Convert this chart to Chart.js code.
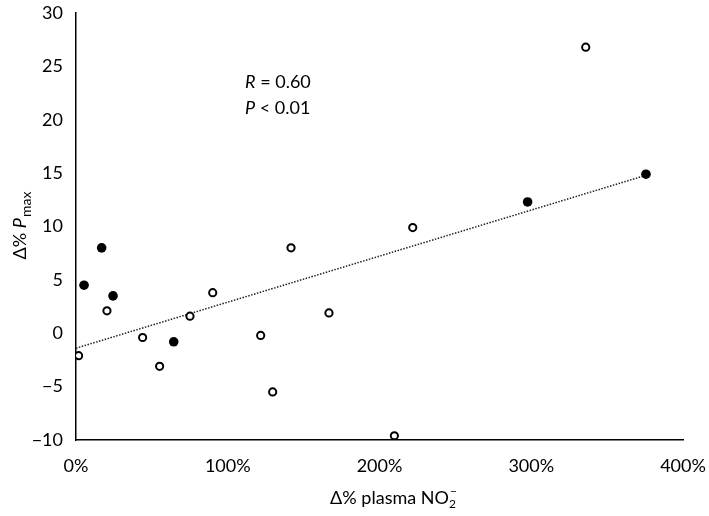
<!DOCTYPE html>
<html>
<head>
<meta charset="utf-8">
<script src="https://cdn.jsdelivr.net/npm/chart.js@4.4.1/dist/chart.umd.min.js"></script>
<style>
  html, body { margin: 0; padding: 0; background: #fff; }
  #wrap { width: 709px; height: 516px; position: relative; }
</style>
</head>
<body>
<div id="wrap"><canvas id="chart"></canvas></div>
<script>
// open circles
const openX = [1.7, 20.4, 43.9, 55.1, 75.1, 90.1, 121.7, 129.6, 141.7, 166.7, 209.8, 221.9, 335.9];
const openY = [-2.1, 2.1, -0.4, -3.1, 1.6, 3.8, -0.2, -5.5, 8.0, 1.9, -9.6, 9.9, 26.8];
// filled circles
const filledX = [5.3, 16.9, 24.4, 64.4, 297.6, 375.6];
const filledY = [4.5, 8.0, 3.5, -0.8, 12.3, 14.9];
// trendline endpoints
const trendX = [0, 375.6];
const trendY = [-1.4, 14.8];

const FONT = 'Lato, "Open Sans", sans-serif';

function toPoints(xs, ys) {
    return xs.map((x, i) => ({ x: x, y: ys[i] }));
}

// fixed axis box sizes, no extra label padding
function fixBox(size) {
    return s => {
        if (s.isHorizontal()) s.height = size; else s.width = size;
        s.paddingTop = 0;
        s.paddingBottom = 0;
        s.paddingLeft = 0;
        s.paddingRight = 0;
    };
}

// draws the axis titles and the R / P note with italics and sub/superscripts
const textPlugin = {
    id: 'textPlugin',
    afterDraw(chart) {
        const ctx = chart.ctx;
        const xs = chart.scales.x, ys = chart.scales.y;
        ctx.save();
        ctx.fillStyle = '#000';
        ctx.textBaseline = 'alphabetic';

        // R = 0.60 / P < 0.01
        const nx = xs.getPixelForValue(111.4);
        let y1 = ys.getPixelForValue(23.5) + 6;
        ctx.font = 'italic 18px ' + FONT;
        ctx.fillText('R', nx, y1);
        let w = ctx.measureText('R').width;
        ctx.font = '18px ' + FONT;
        ctx.fillText(' = 0.60', nx + w, y1);
        let y2 = ys.getPixelForValue(21.1) + 6;
        ctx.font = 'italic 18px ' + FONT;
        ctx.fillText('P', nx, y2);
        w = ctx.measureText('P').width;
        ctx.font = '18px ' + FONT;
        ctx.fillText(' < 0.01', nx + w, y2);

        // x title: Δ% plasma NO2−
        ctx.font = '18px ' + FONT;
        const a = 'Δ% plasma NO';
        const aw = ctx.measureText(a).width;
        ctx.font = '12px ' + FONT;
        const sw = ctx.measureText('2').width;
        const total = aw + sw + 6;
        let tx = 396 - total / 2;
        const ty = 504;
        ctx.font = '18px ' + FONT;
        ctx.fillText(a, tx, ty);
        ctx.font = '12px ' + FONT;
        ctx.fillText('2', tx + aw, ty + 4);
        ctx.fillText('\u2212', tx + aw + 1, ty - 9);

        // y title: Δ% Pmax (rotated)
        ctx.translate(26, 226);
        ctx.rotate(-Math.PI / 2);
        ctx.font = '18px ' + FONT;
        const b = 'Δ% ';
        const bw = ctx.measureText(b).width;
        ctx.font = 'italic 18px ' + FONT;
        const pw = ctx.measureText('P').width;
        ctx.font = '14px ' + FONT;
        const mw = ctx.measureText('max').width;
        let sx = -(bw + pw + mw) / 2;
        ctx.font = '18px ' + FONT;
        ctx.fillText(b, sx, 0);
        ctx.font = 'italic 18px ' + FONT;
        ctx.fillText('P', sx + bw, 0);
        ctx.font = '14px ' + FONT;
        ctx.fillText('max', sx + bw + pw + 1, 5);
        ctx.restore();
    }
};

new Chart(document.getElementById('chart'), {
    type: 'scatter',
    data: {
        datasets: [
            {
                type: 'line',
                label: 'Trend',
                data: toPoints(trendX, trendY),
                borderColor: '#222',
                borderWidth: 1.5,
                borderDash: [1.5, 1.5],
                pointRadius: 0,
                fill: false,
                order: 3
            },
            {
                label: 'Open',
                data: toPoints(openX, openY),
                pointRadius: 3.6,
                pointBorderWidth: 2,
                pointBorderColor: '#000',
                pointBackgroundColor: '#fff',
                order: 1
            },
            {
                label: 'Filled',
                data: toPoints(filledX, filledY),
                pointRadius: 4.8,
                pointBorderWidth: 0,
                pointBackgroundColor: '#000',
                order: 2
            }
        ]
    },
    options: {
        responsive: true,
        maintainAspectRatio: false,
        animation: false,
        layout: { autoPadding: false, padding: { top: 13, right: 26, left: 0, bottom: 0 } },
        plugins: {
            legend: { display: false },
            tooltip: { enabled: false }
        },
        scales: {
            x: {
                type: 'linear',
                min: 0,
                max: 400,
                grid: { display: false, drawTicks: false },
                border: { display: true, color: '#000', width: 1.5 },
                ticks: {
                    stepSize: 100,
                    padding: 15,
                    color: '#000',
                    font: { family: FONT, size: 18 },
                    callback: v => v + '%'
                },
                afterFit: fixBox(76)
            },
            y: {
                min: -10,
                max: 30,
                grid: { display: false, drawTicks: false },
                border: { display: true, color: '#000', width: 1.5 },
                ticks: {
                    stepSize: 5,
                    padding: 13,
                    color: '#000',
                    font: { family: FONT, size: 18 },
                    callback: v => String(v).replace('-', '\u2212')
                },
                afterFit: fixBox(76)
            }
        }
    },
    plugins: [textPlugin]
});
</script>
</body>
</html>
